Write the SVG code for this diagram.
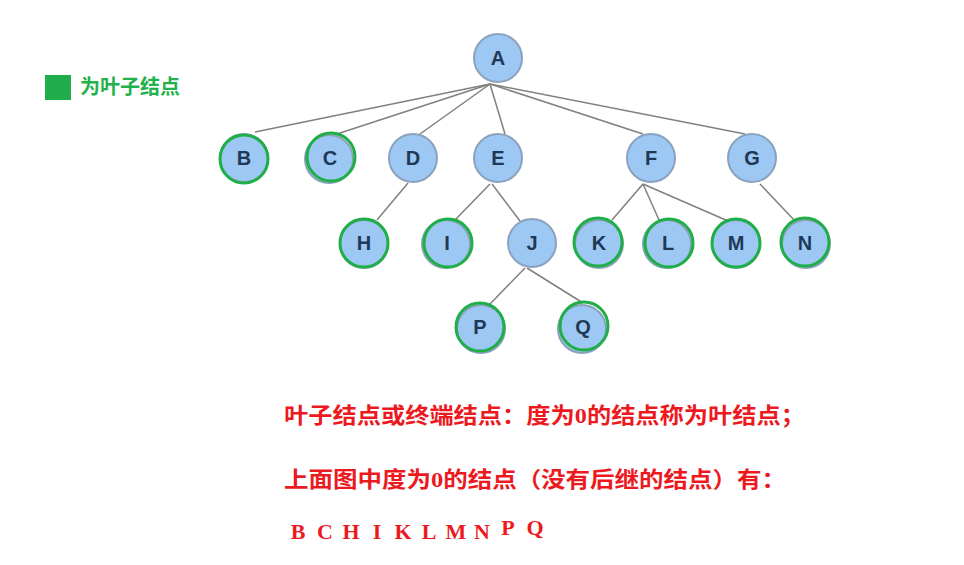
<svg xmlns="http://www.w3.org/2000/svg" width="964" height="565" viewBox="0 0 964 565">
<style>
.n{fill:#9dc8f4;stroke:#8aa2bd;stroke-width:2}
.g{fill:none;stroke:#1fae47;stroke-width:3}
.t{font-family:"Liberation Sans",Arial,sans-serif;font-size:20px;font-weight:bold;fill:#1f3856;text-anchor:middle}
.e line{stroke:#808080;stroke-width:1.5}
.r{font-family:"Liberation Serif","Noto Sans CJK SC",serif;font-size:22px;font-weight:bold;fill:#ec1a1f}
.rl{font-family:"Liberation Serif",serif;font-size:22px;font-weight:bold;fill:#ec1a1f;text-anchor:middle}
</style>
<rect width="964" height="565" fill="#ffffff"/>
<g id="legend">
<rect x="45" y="75" width="26" height="25" fill="#21ad4b"/>
<text x="80" y="94" font-family="Noto Sans CJK SC,sans-serif" font-size="20" font-weight="bold" fill="#22b14c">为叶子结点</text>
</g>
<g class="e" id="edges">
<line x1="490" y1="84" x2="255" y2="132"/>
<line x1="490" y1="84" x2="337" y2="134"/>
<line x1="490" y1="84" x2="420" y2="134"/>
<line x1="490" y1="84" x2="505" y2="134"/>
<line x1="490" y1="84" x2="643" y2="134"/>
<line x1="490" y1="84" x2="745" y2="134"/>
<line x1="408" y1="183" x2="377" y2="220"/>
<line x1="490" y1="184" x2="455" y2="220"/>
<line x1="492" y1="184" x2="520" y2="221"/>
<line x1="643" y1="184" x2="612" y2="220"/>
<line x1="643" y1="184" x2="659" y2="220"/>
<line x1="643" y1="184" x2="728" y2="221"/>
<line x1="760" y1="184" x2="795" y2="221"/>
<line x1="525" y1="268" x2="490" y2="304"/>
<line x1="527" y1="268" x2="583" y2="303"/>
</g>
<g id="A"><circle class="n" cx="498" cy="58" r="24"/><text class="t" x="498" y="65">A</text></g>
<g id="B"><circle class="n" cx="244" cy="158" r="24"/><circle class="g" cx="244" cy="159" r="24"/><text class="t" x="244" y="165">B</text></g>
<g id="C"><circle class="n" cx="329" cy="159" r="24"/><circle class="g" cx="331" cy="157" r="24"/><text class="t" x="330" y="165">C</text></g>
<g id="D"><circle class="n" cx="413" cy="158" r="24"/><text class="t" x="413" y="165">D</text></g>
<g id="E"><circle class="n" cx="498" cy="158" r="24"/><text class="t" x="498" y="165">E</text></g>
<g id="F"><circle class="n" cx="651" cy="158" r="24"/><text class="t" x="651" y="165">F</text></g>
<g id="G"><circle class="n" cx="752" cy="158" r="24"/><text class="t" x="752" y="165">G</text></g>
<g id="H"><circle class="n" cx="364" cy="244" r="24"/><circle class="g" cx="364" cy="243" r="24"/><text class="t" x="364" y="250">H</text></g>
<g id="I"><circle class="n" cx="446" cy="244" r="24"/><circle class="g" cx="448" cy="243" r="24"/><text class="t" x="447" y="250">I</text></g>
<g id="J"><circle class="n" cx="532" cy="243" r="24"/><text class="t" x="532" y="250">J</text></g>
<g id="K"><circle class="n" cx="599" cy="244" r="24"/><circle class="g" cx="598" cy="242" r="24"/><text class="t" x="599" y="250">K</text></g>
<g id="L"><circle class="n" cx="667" cy="244" r="24"/><circle class="g" cx="669" cy="243" r="24"/><text class="t" x="668" y="250">L</text></g>
<g id="M"><circle class="n" cx="736" cy="244" r="24"/><circle class="g" cx="736" cy="243" r="24"/><text class="t" x="736" y="250">M</text></g>
<g id="N"><circle class="n" cx="806" cy="244" r="24"/><circle class="g" cx="805" cy="242" r="24"/><text class="t" x="805" y="250">N</text></g>
<g id="P"><circle class="n" cx="481" cy="329" r="24"/><circle class="g" cx="480" cy="327" r="24"/><text class="t" x="480" y="334">P</text></g>
<g id="Q"><circle class="n" cx="582" cy="329" r="24"/><circle class="g" cx="584" cy="326" r="24"/><text class="t" x="583" y="334">Q</text></g>
<g id="notes">
<text class="r" x="284" y="423" textLength="521" lengthAdjust="spacingAndGlyphs">叶子结点或终端结点：度为0的结点称为叶结点；</text>
<text class="r" x="284" y="487" textLength="502" lengthAdjust="spacingAndGlyphs">上面图中度为0的结点（没有后继的结点）有：</text>
<text class="rl" x="298" y="539">B</text>
<text class="rl" x="325" y="539">C</text>
<text class="rl" x="351" y="539">H</text>
<text class="rl" x="377" y="539">I</text>
<text class="rl" x="403" y="539">K</text>
<text class="rl" x="429" y="539">L</text>
<text class="rl" x="456" y="539">M</text>
<text class="rl" x="482" y="539">N</text>
<text class="rl" x="508" y="535">P</text>
<text class="rl" x="535" y="535">Q</text>
</g>
</svg>
